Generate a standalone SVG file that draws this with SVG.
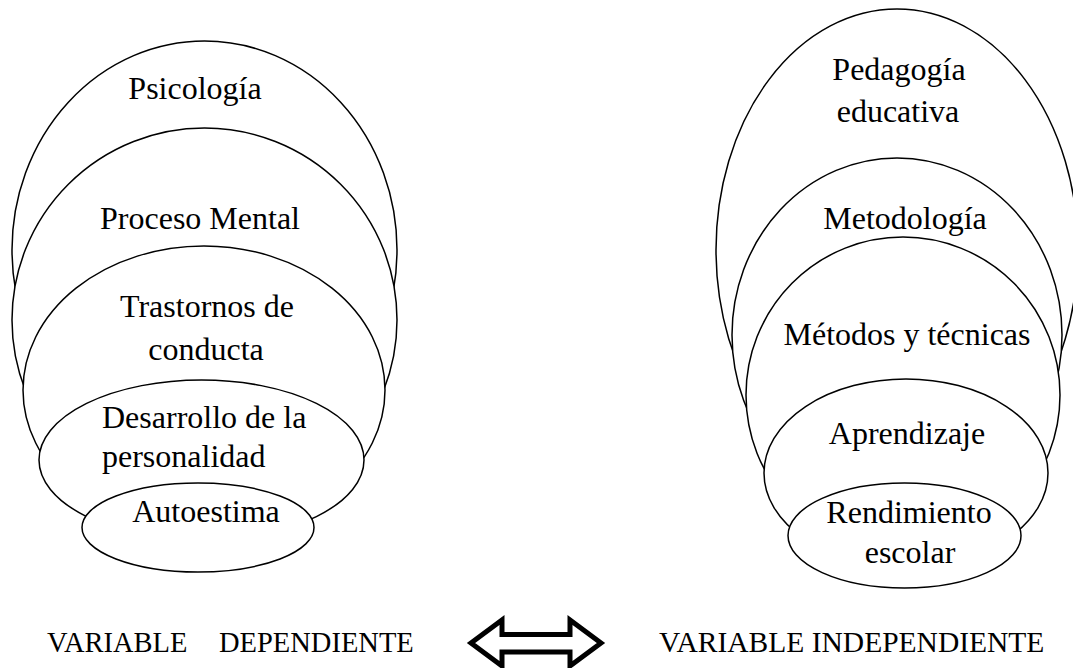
<svg xmlns="http://www.w3.org/2000/svg" width="1073" height="668" viewBox="0 0 1073 668">
<style>
.e{fill:#fff;stroke:#000;stroke-width:1.5}
.t{font-family:"Liberation Serif","Times New Roman",serif;font-size:32px;fill:#000;text-anchor:middle}
.s{text-anchor:start}
.b{font-family:"Liberation Serif","Times New Roman",serif;font-size:29.5px;fill:#000}
.arr{fill:#fff;stroke:#000;stroke-width:5;stroke-linejoin:miter;stroke-miterlimit:10}
</style>
<rect width="1073" height="668" fill="#fff"/>
<g id="dependiente">
<g id="psicologia"><ellipse class="e" cx="204.5" cy="250" rx="192.5" ry="209"/><text class="t" x="195" y="99">Psicología</text></g>
<g id="proceso-mental"><ellipse class="e" cx="204.5" cy="320" rx="192.5" ry="192"/><text class="t" x="200" y="229">Proceso Mental</text></g>
<g id="trastornos"><ellipse class="e" cx="204" cy="390" rx="181" ry="144"/><text class="t" x="207" y="317">Trastornos de</text><text class="t" x="206" y="360">conducta</text></g>
<g id="desarrollo"><ellipse class="e" cx="201.5" cy="460" rx="162.5" ry="80"/><text class="t s" x="102" y="428">Desarrollo de la</text><text class="t s" x="102" y="467">personalidad</text></g>
<g id="autoestima"><ellipse class="e" cx="198" cy="527.5" rx="116" ry="44.5"/><text class="t" x="206" y="522">Autoestima</text></g>
</g>
<g id="independiente">
<g id="pedagogia"><ellipse class="e" cx="897" cy="250" rx="181" ry="241"/><text class="t" x="899" y="80">Pedagogía</text><text class="t" x="898" y="122">educativa</text></g>
<g id="metodologia"><ellipse class="e" cx="897" cy="335" rx="165" ry="177"/><text class="t" x="905" y="229">Metodología</text></g>
<g id="metodos"><ellipse class="e" cx="903" cy="395" rx="157" ry="158"/><text class="t" x="907" y="345">Métodos y técnicas</text></g>
<g id="aprendizaje"><ellipse class="e" cx="906" cy="473" rx="142" ry="94"/><text class="t" x="907" y="444">Aprendizaje</text></g>
<g id="rendimiento"><ellipse class="e" cx="904.5" cy="535.5" rx="116.5" ry="52.5"/><text class="t" x="909" y="523">Rendimiento</text><text class="t" x="910" y="563">escolar</text></g>
</g>
<g id="connectors">
<polygon class="arr" points="471,643 502,620 502,634.5 570,634.5 570,620 601,643 570,666 570,652 502,652 502,666"/>
</g>
<g id="labels">
<text class="b" y="652" style="font-size:28.5px"><tspan x="47">VARIABLE</tspan><tspan x="219">DEPENDIENTE</tspan></text>
<text class="b" x="659" y="652">VARIABLE INDEPENDIENTE</text>
</g>
</svg>
